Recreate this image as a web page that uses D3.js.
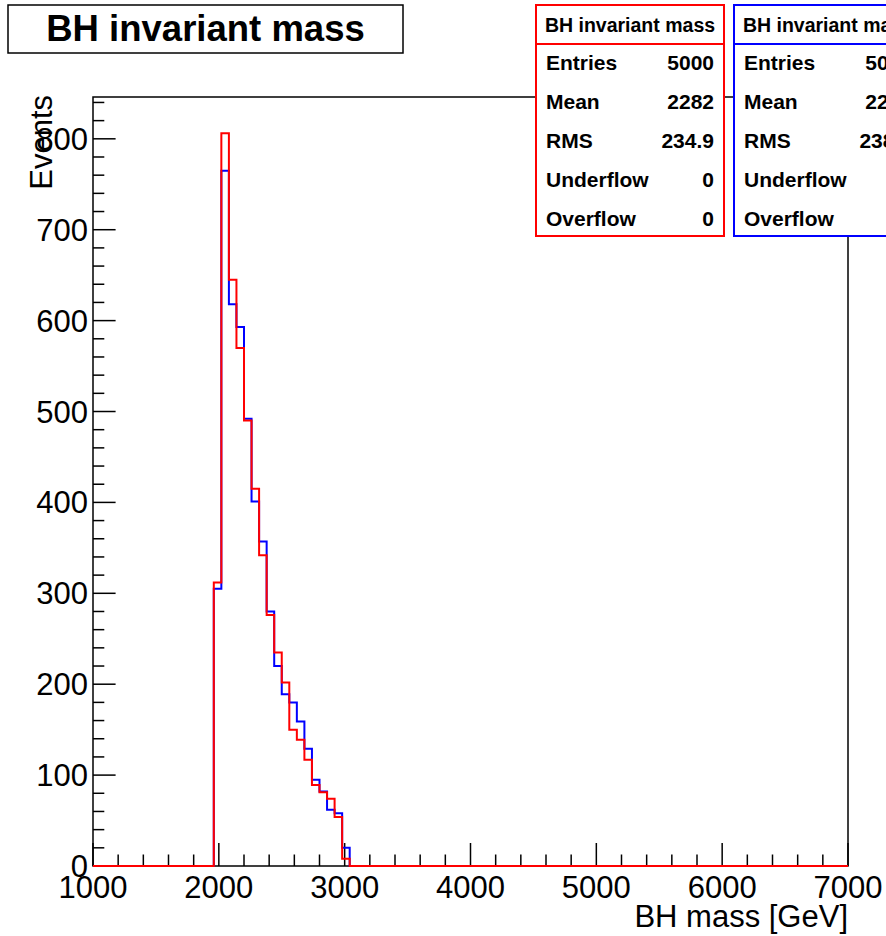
<!DOCTYPE html>
<html><head><meta charset="utf-8">
<script src="https://cdn.jsdelivr.net/npm/d3@7"></script>
<style>body{margin:0;background:#fff}svg{display:block}</style>
</head><body>
<script>
// ---- data ----
const histRange = [1000, 7000];     // histogram axis range (GeV)
const binWidth = 60;                // GeV
const binLows = [1960,2020,2080,2140,2200,2260,2320,2380,2440,2500,2560,2620,2680,2740,2800,2860,2920,2980];
const redCounts  = [312,806,645,570,490,415,342,276,235,202,150,139,117,89,81,74,54,8];
const blueCounts = [305,765,618,593,492,401,357,280,220,189,180,159,129,95,82,62,58,20];
const xTicks = [1000,2000,3000,4000,5000,6000,7000];
const yTicks = [0,100,200,300,400,500,600,700,800];
const yMax = 846;
const statsLabels = ["Entries","Mean","RMS","Underflow","Overflow"];
const redStats  = ["5000","2282","234.9","0","0"];
const blueStats = ["5000","2290","238.3","0","0"];

const W = 886, H = 936;
const svg = d3.select("body").append("svg").attr("width", W).attr("height", H);
const F = "Liberation Sans, Arial, Helvetica, sans-serif";

const x = d3.scaleLinear().domain(histRange).range([93, 848]);
const y = d3.scaleLinear().domain([0, yMax]).range([866, 97]);

// frame
svg.append("rect").attr("x", x(histRange[0])).attr("y", y(yMax))
  .attr("width", x(histRange[1]) - x(histRange[0])).attr("height", y(0) - y(yMax))
  .attr("fill", "none").attr("stroke", "#000").attr("stroke-width", 1.5);

// axes ticks
const xMinor = d3.range(histRange[0], histRange[1] + 1, 200);
const yMinor = d3.range(0, yMax, 20);
const g = svg.append("g").attr("stroke", "#000").attr("stroke-width", 1.5);
xMinor.forEach(v => {
  const major = v % 1000 === 0;
  g.append("line").attr("x1", x(v)).attr("x2", x(v)).attr("y1", y(0)).attr("y2", y(0) - (major ? 23 : 11.5));
});
yMinor.forEach(v => {
  const major = v % 100 === 0;
  g.append("line").attr("y1", y(v)).attr("y2", y(v)).attr("x1", x(histRange[0])).attr("x2", x(histRange[0]) + (major ? 22.6 : 11.3));
});

// histograms
function histPath(counts) {
  const pts = [[histRange[0], 0]];
  binLows.forEach((lo, i) => { pts.push([lo, pts[pts.length-1][1]]); pts.push([lo, counts[i]]); });
  const last = binLows[binLows.length-1] + binWidth;
  pts.push([last, counts[counts.length-1]]);
  pts.push([last, 0]);
  pts.push([histRange[1], 0]);
  return d3.line().x(d => x(d[0])).y(d => y(d[1]))(pts);
}
svg.append("path").attr("d", histPath(blueCounts)).attr("fill", "none").attr("stroke", "#0000ff").attr("stroke-width", 2);
svg.append("path").attr("d", histPath(redCounts)).attr("fill", "none").attr("stroke", "#ff0000").attr("stroke-width", 2);

// tick labels
svg.append("g").selectAll("text").data(xTicks).join("text")
  .attr("x", d => x(d)).attr("y", 898).attr("text-anchor", "middle")
  .attr("font-family", F).attr("font-size", 31).text(d => d);
svg.append("g").selectAll("text").data(yTicks).join("text")
  .attr("x", 88).attr("y", d => y(d) + 11).attr("text-anchor", "end")
  .attr("font-family", F).attr("font-size", 31).text(d => d);

// axis titles
svg.append("text").attr("x", 848).attr("y", 927).attr("text-anchor", "end")
  .attr("font-family", F).attr("font-size", 31).text("BH mass [GeV]");
svg.append("text").attr("transform", "translate(52,95) rotate(-90)").attr("text-anchor", "end")
  .attr("font-family", F).attr("font-size", 31).text("Events");

// title box
svg.append("rect").attr("x", 8).attr("y", 5).attr("width", 395).attr("height", 48)
  .attr("fill", "#fff").attr("stroke", "#000").attr("stroke-width", 1.5);
svg.append("text").attr("x", 205.5).attr("y", 41).attr("text-anchor", "middle")
  .attr("font-family", F).attr("font-weight", "bold").attr("font-size", 36.5).text("BH invariant mass");

// stats boxes
function statsBox(x0, color, values) {
  const bw = 188;
  const sg = svg.append("g");
  sg.append("rect").attr("x", x0).attr("y", 5).attr("width", bw).attr("height", 231)
    .attr("fill", "#fff").attr("stroke", color).attr("stroke-width", 2);
  sg.append("line").attr("x1", x0).attr("x2", x0 + bw).attr("y1", 44).attr("y2", 44)
    .attr("stroke", color).attr("stroke-width", 2);
  sg.append("text").attr("x", x0 + bw / 2).attr("y", 32).attr("text-anchor", "middle")
    .attr("font-family", F).attr("font-weight", "bold").attr("font-size", 19.5).text("BH invariant mass");
  statsLabels.forEach((lab, i) => {
    const by = 70 + i * 39;
    sg.append("text").attr("x", x0 + 10).attr("y", by).attr("font-family", F)
      .attr("font-weight", "bold").attr("font-size", 21).text(lab);
    sg.append("text").attr("x", x0 + bw - 10).attr("y", by).attr("text-anchor", "end").attr("font-family", F)
      .attr("font-weight", "bold").attr("font-size", 21).text(values[i]);
  });
}
statsBox(536, "#ff0000", redStats);
statsBox(734, "#0000ff", blueStats);
</script>
</body></html>
